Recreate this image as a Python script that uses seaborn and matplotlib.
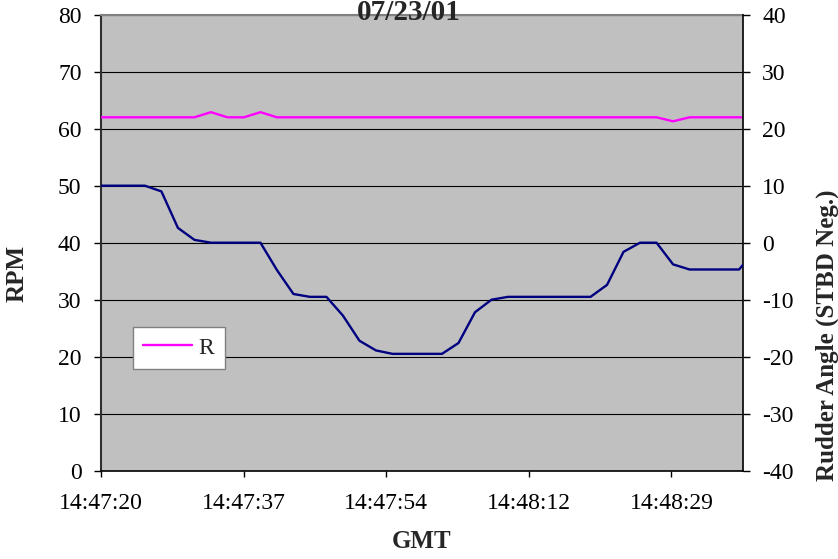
import matplotlib
matplotlib.use("Agg")
import matplotlib.pyplot as plt
import seaborn as sns
import pandas as pd

# ---------------- data ----------------
times = ["14:47:19", "14:47:21", "14:47:23", "14:47:25", "14:47:27", "14:47:29",
         "14:47:31", "14:47:33", "14:47:35", "14:47:37", "14:47:39", "14:47:41",
         "14:47:43", "14:47:45", "14:47:47", "14:47:49", "14:47:51", "14:47:53",
         "14:47:55", "14:47:57", "14:47:59", "14:48:01", "14:48:03", "14:48:05",
         "14:48:07", "14:48:09", "14:48:11", "14:48:13", "14:48:15", "14:48:17",
         "14:48:19", "14:48:21", "14:48:23", "14:48:25", "14:48:27", "14:48:29",
         "14:48:31", "14:48:33", "14:48:35", "14:48:37", "14:48:39"]

rpm = [62, 62, 62, 62, 62, 62, 62, 62.9, 62, 62, 62.9, 62, 62, 62, 62, 62,
       62, 62, 62, 62, 62, 62, 62, 62, 62, 62, 62, 62, 62, 62, 62, 62, 62, 62,
       62, 61.3, 62, 62, 62, 62, 62]

rudder = [10, 10, 10, 10, 9.0, 2.6, 0.5, 0, 0, 0, 0, -4.8, -9.0, -9.5, -9.5,
          -12.8, -17.2, -18.9, -19.5, -19.5, -19.5, -19.5, -17.6, -12.2, -10.0,
          -9.5, -9.5, -9.5, -9.5, -9.5, -9.5, -7.4, -1.6, 0, 0, -3.8, -4.7,
          -4.7, -4.7, -4.7, -1.3]

xtick_labels = ["14:47:20", "14:47:37", "14:47:54", "14:48:12", "14:48:29"]
rpm_ticks = [0, 10, 20, 30, 40, 50, 60, 70, 80]
rudder_ticks = [-40, -30, -20, -10, 0, 10, 20, 30, 40]

title = "07/23/01"
legend_label = "R"

# ---------------- helpers ----------------
BASE = 14 * 3600 + 47 * 60


def to_sec(s):
    h, m, sec = (int(v) for v in s.split(":"))
    return h * 3600 + m * 60 + sec - BASE


df = pd.DataFrame({"t": [to_sec(s) for s in times], "rpm": rpm, "rudder": rudder})

# Excel-style time axis: min 0.6162 day, major unit 0.0002 day, max 0.6171 day
x_min = 0.6162 * 86400 - BASE
x_step = 0.0002 * 86400
x_max = 0.6171 * 86400 - BASE
xticks = [x_min + i * x_step for i in range(len(xtick_labels))]

# ---------------- style ----------------
sns.set_style("white")
plt.rcParams["font.family"] = ["Liberation Serif", "DejaVu Serif"]
plt.rcParams["axes.unicode_minus"] = False

W, H = 838, 559
fig = plt.figure(figsize=(W / 100, H / 100), dpi=100)
L, R, T, B = 101, 742.7, 14.7, 470.7
ax = fig.add_axes([L / W, 1 - B / H, (R - L) / W, (B - T) / H])
ax.set_facecolor("#C0C0C0")

sns.lineplot(data=df, x="t", y="rpm", ax=ax, color="#FF00FF", linewidth=1.7,
             label=legend_label, zorder=3)

ax2 = ax.twinx()
sns.lineplot(data=df, x="t", y="rudder", ax=ax2, color="#000080", linewidth=1.7,
             legend=False, zorder=3)

ax.set_xlim(x_min, x_max)
ax.set_ylim(0, 80)
ax2.set_ylim(-40, 40)
ax.set_xticks(xticks)
ax.set_xticklabels(xtick_labels)
ax.set_yticks(rpm_ticks)
ax2.set_yticks(rudder_ticks)
ax.set_xlabel("")
ax.set_ylabel("")
ax2.set_xlabel("")
ax2.set_ylabel("")

ax.grid(axis="y", color="black", linewidth=0.8, zorder=1)
ax.grid(axis="x", visible=False)
ax.set_axisbelow(True)

fs = 17
ax.tick_params(axis="y", direction="out", length=5, width=1, pad=9,
               labelsize=fs, colors="black", left=True)
ax.tick_params(axis="x", direction="out", length=4.3, width=1, pad=11.5,
               labelsize=fs, colors="black", bottom=True)
ax2.tick_params(axis="y", direction="out", length=5, width=1, pad=9,
                labelsize=fs, colors="black", right=True)

for a in (ax, ax2):
    for side in ("left", "right", "top", "bottom"):
        a.spines[side].set_visible(False)
ax.spines["left"].set_visible(True)
ax.spines["left"].set_color("#303030")
ax.spines["left"].set_linewidth(1.5)
ax.spines["bottom"].set_visible(True)
ax.spines["bottom"].set_color("black")
ax.spines["bottom"].set_linewidth(1.2)
ax.spines["top"].set_visible(True)
ax.spines["top"].set_color("#808080")
ax.spines["top"].set_linewidth(1.5)
ax2.spines["right"].set_visible(True)
ax2.spines["right"].set_color("black")
ax2.spines["right"].set_linewidth(1.2)

leg = ax.legend(loc="lower left", bbox_to_anchor=(0.0494, 0.2224),
                borderaxespad=0, fontsize=fs, frameon=True, fancybox=False,
                handlelength=2.05, handletextpad=0.3, borderpad=0.45)
leg.get_frame().set_edgecolor("#808080")
leg.get_frame().set_facecolor("white")
leg.get_frame().set_linewidth(1.0)
leg.get_frame().set_alpha(1)
leg.set_zorder(10)

fig.text(409 / W, 1 - 19.5 / H, title, ha="center", va="baseline",
         fontsize=21, fontweight="bold")
fig.text(17 / W, 1 - 273 / H, "RPM", ha="center", va="center", rotation=90,
         fontsize=18, fontweight="bold")
fig.text(827 / W, 1 - 335 / H, "Rudder Angle (STBD Neg.)", ha="center",
         va="center", rotation=90, fontsize=18, fontweight="bold")
fig.text(421.8 / W, 1 - 541 / H, "GMT", ha="center", va="center",
         fontsize=18, fontweight="bold")

fig.savefig("out.png", dpi=100)
